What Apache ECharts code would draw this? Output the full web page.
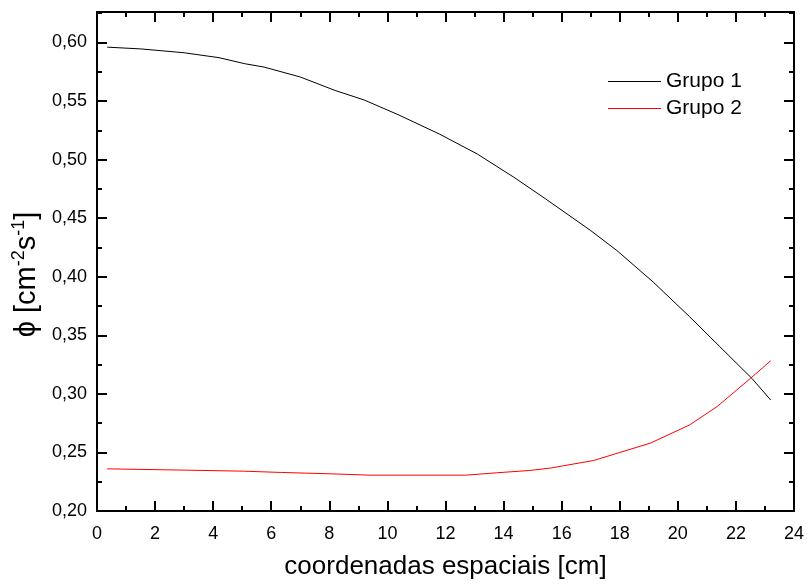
<!DOCTYPE html>
<html>
<head>
<meta charset="utf-8">
<script src="https://cdn.jsdelivr.net/npm/echarts@6/dist/echarts.min.js"></script>
<style>
  html, body { margin: 0; padding: 0; background: #fff; }
  #chart { width: 807px; height: 585px; }
</style>
</head>
<body>
<div id="chart"></div>
<script>
// Group 1 flux profile
const group1X = [0.35, 1.5, 3.0, 4.2, 5.1, 5.75, 7.0, 8.2, 9.2, 10.4, 11.8, 13.1, 14.35, 15.45, 17.0, 17.9, 19.15, 20.4, 21.45, 22.55, 23.2];
const group1Y = [0.596, 0.5945, 0.5912, 0.587, 0.5818, 0.579, 0.5705, 0.559, 0.5509, 0.538, 0.5217, 0.5047, 0.485, 0.4664, 0.4394, 0.4224, 0.3955, 0.366, 0.3402, 0.3132, 0.2947];
// Group 2 flux profile
const group2X = [0.35, 3.0, 5.05, 6.35, 8.1, 9.4, 12.7, 13.75, 14.9, 15.6, 17.1, 19.05, 20.4, 21.35, 22.5, 23.2];
const group2Y = [0.236, 0.2349, 0.234, 0.2329, 0.2317, 0.2306, 0.2306, 0.2326, 0.2346, 0.2366, 0.2431, 0.2579, 0.2734, 0.2891, 0.3132, 0.3283];

const seriesNames = ['Grupo 1', 'Grupo 2'];
const xTitle = 'coordenadas espaciais [cm]';

const X_MIN = 0, X_MAX = 24, X_STEP = 2;
const Y_MIN = 0.2, Y_MAX = 0.626, Y_STEP = 0.05, Y_MINOR = 0.025;

const FONT = '"Liberation Sans", Arial, sans-serif';
const INK = '#000';

function pairs(xs, ys) { return xs.map((x, i) => [x, ys[i]]); }

// x axes: bottom carries labels and title, top mirrors the ticks to close the frame
function xAxisDef(pos, labels) {
  return {
    type: 'value', position: pos, offset: 0, min: X_MIN, max: X_MAX, interval: X_STEP,
    axisLine: { show: true, onZero: false, lineStyle: { color: INK, width: 2 } },
    axisTick: { show: true, inside: true, length: 10, lineStyle: { color: INK, width: 2 } },
    minorTick: { show: true, splitNumber: 2, length: 5, lineStyle: { color: INK, width: 2 } },
    splitLine: { show: false },
    axisLabel: { show: labels, margin: 14, fontSize: 18, color: INK, fontFamily: FONT },
    name: labels ? xTitle : '',
    nameLocation: 'middle', nameGap: 43,
    nameTextStyle: { fontSize: 26, color: INK, fontFamily: FONT }
  };
}

// y axes: a major-tick axis and a minor-tick axis on each side
function yAxisDef(pos, major, labels) {
  const ax = {
    type: 'value', position: pos, offset: 0, min: Y_MIN, max: Y_MAX,
    interval: major ? Y_STEP : Y_MINOR,
    axisLine: { show: major, onZero: false, lineStyle: { color: INK, width: 2 } },
    axisTick: { show: true, inside: true, length: major ? 10 : 5, lineStyle: { color: INK, width: 2 } },
    splitLine: { show: false },
    axisLabel: {
      show: labels, margin: 10, fontSize: 18, color: INK, fontFamily: FONT,
      showMaxLabel: false,
      formatter: v => {
        const k = Math.round(v / Y_STEP);
        if (Math.abs(v - k * Y_STEP) > 1e-6) return '';
        return v.toFixed(2).replace('.', ',');
      }
    }
  };
  if (labels) {
    ax.name = '{t|ϕ [cm}{s|-2}{t|s}{s|-1}{t|]}';
    ax.nameLocation = 'middle';
    ax.nameGap = 53;
    ax.nameRotate = 90;
    ax.nameTextStyle = {
      color: INK, fontFamily: FONT, padding: [0, 26, 0, 0],
      rich: {
        t: { fontSize: 29, color: INK, fontFamily: FONT, lineHeight: 34 },
        s: { fontSize: 18, color: INK, fontFamily: FONT, verticalAlign: 'top', lineHeight: 34 }
      }
    };
  }
  return ax;
}

const chart = echarts.init(document.getElementById('chart'), null, { renderer: 'canvas' });
chart.setOption({
  animation: false,
  backgroundColor: '#fff',
  grid: { left: 97, right: 12, top: 12, bottom: 72, containLabel: false },
  legend: {
    orient: 'vertical', left: 603, top: 66,
    itemWidth: 53, itemHeight: 1, itemGap: 6, icon: 'rect',
    textStyle: { fontSize: 21, color: INK, fontFamily: FONT },
    data: seriesNames
  },
  xAxis: [xAxisDef('bottom', true), xAxisDef('top', false)],
  yAxis: [
    yAxisDef('left', true, true),
    yAxisDef('left', false, false),
    yAxisDef('right', true, false),
    yAxisDef('right', false, false)
  ],
  series: [
    {
      name: seriesNames[0], type: 'line', xAxisIndex: 0, yAxisIndex: 0,
      data: pairs(group1X, group1Y), showSymbol: false, smooth: false,
      color: '#000', lineStyle: { color: '#000', width: 1 }
    },
    {
      name: seriesNames[1], type: 'line', xAxisIndex: 0, yAxisIndex: 0,
      data: pairs(group2X, group2Y), showSymbol: false, smooth: false,
      color: '#ff0000', lineStyle: { color: '#ff0000', width: 1 }
    }
  ]
});
</script>
</body>
</html>
